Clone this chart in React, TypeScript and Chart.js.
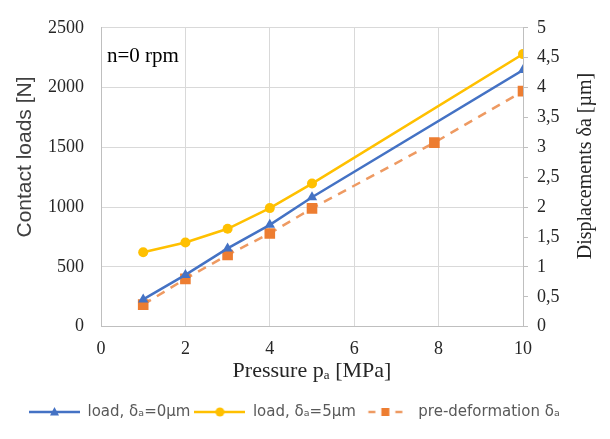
import React, { useEffect, useRef } from 'react';
import { Chart, registerables } from 'chart.js';

Chart.register(...registerables);

// ---- data ----
const pressure = [1, 2, 3, 4, 5, 10];
const loadDelta0 = [228, 433, 655, 852, 1083, 2146];
const loadDelta5 = [622, 704, 819, 992, 1197, 2280];
const prePressure = [1, 2, 3, 4, 5, 7.9, 10];
const preDeformation = [0.37, 0.8, 1.2, 1.56, 1.98, 3.08, 3.94];

const legendLabels = ['load, δₐ=0µm', 'load, δₐ=5µm', 'pre-deformation δₐ'];
const xTitle = 'Pressure pₐ [MPa]';
const yTitle = 'Contact loads [N]';
const y1Title = 'Displacements δa [µm]';
const annotation = 'n=0 rpm';

const BLUE = '#4472C4';
const GOLD = '#FFC000';
const ORANGE = '#ED7D31';
const ORANGE_LINE = '#EE9A62';
const GRID = '#d9d9d9';
const AXIS = '#bfbfbf';
const TEXT = '#262626';
const SERIF = '"Liberation Serif", "Times New Roman", serif';
const SANS = '"Liberation Sans", Arial, sans-serif';

const ICON_W = 51;

function makeIcon(kind: 'tri' | 'circle' | 'square'): HTMLCanvasElement {
  const c = document.createElement('canvas');
  c.width = ICON_W;
  c.height = 14;
  const ctx = c.getContext('2d')!;
  const cy = 7;
  const mid = ICON_W / 2;
  if (kind === 'tri') {
    ctx.strokeStyle = BLUE;
    ctx.lineWidth = 2.5;
    ctx.beginPath();
    ctx.moveTo(0, cy);
    ctx.lineTo(ICON_W, cy);
    ctx.stroke();
    ctx.fillStyle = BLUE;
    ctx.beginPath();
    ctx.moveTo(mid, cy - 5);
    ctx.lineTo(mid + 4.5, cy + 3.5);
    ctx.lineTo(mid - 4.5, cy + 3.5);
    ctx.closePath();
    ctx.fill();
  } else if (kind === 'circle') {
    ctx.strokeStyle = GOLD;
    ctx.lineWidth = 2.5;
    ctx.beginPath();
    ctx.moveTo(0, cy);
    ctx.lineTo(ICON_W, cy);
    ctx.stroke();
    ctx.fillStyle = GOLD;
    ctx.beginPath();
    ctx.arc(mid, cy, 4.5, 0, Math.PI * 2);
    ctx.fill();
  } else {
    ctx.strokeStyle = ORANGE_LINE;
    ctx.lineWidth = 2.5;
    ctx.beginPath();
    ctx.moveTo(mid - 17, cy);
    ctx.lineTo(mid - 10, cy);
    ctx.moveTo(mid + 10, cy);
    ctx.lineTo(mid + 17, cy);
    ctx.stroke();
    ctx.fillStyle = ORANGE;
    ctx.fillRect(mid - 4, cy - 4, 8, 8);
  }
  return c;
}

const legendShift = {
  id: 'legendShift',
  afterLayout(chart: any) {
    if (chart.legend) chart.legend.left = 25;
  },
};

const textPlugin = {
  id: 'extraText',
  afterDraw(chart: any) {
    const { ctx, chartArea } = chart;
    ctx.save();
    ctx.font = `21px ${SERIF}`;
    ctx.fillStyle = '#000';
    ctx.textBaseline = 'middle';
    ctx.textAlign = 'left';
    ctx.fillText(annotation, chartArea.left + 6, chartArea.top + 29);

    // left axis title (sans, reads bottom-to-top)
    ctx.save();
    ctx.translate(25, 157);
    ctx.rotate(-Math.PI / 2);
    ctx.textAlign = 'center';
    ctx.font = `21px ${SANS}`;
    ctx.fillStyle = '#404040';
    ctx.fillText(yTitle, 0, 0);
    ctx.restore();

    // right axis title (serif, reads bottom-to-top)
    ctx.save();
    ctx.translate(586, 166);
    ctx.rotate(-Math.PI / 2);
    ctx.textAlign = 'center';
    ctx.font = `20px ${SERIF}`;
    ctx.fillStyle = TEXT;
    ctx.fillText(y1Title, 0, 0);
    ctx.restore();

    ctx.restore();
  },
};

export default function App() {
  const ref = useRef<HTMLCanvasElement | null>(null);

  useEffect(() => {
    if (!ref.current) return;
    const icons = [makeIcon('tri'), makeIcon('circle'), makeIcon('square')];
    const chart = new Chart(ref.current, {
      type: 'line',
      data: {
        datasets: [
          {
            label: legendLabels[0],
            data: pressure.map((x, i) => ({ x, y: loadDelta0[i] })),
            borderColor: BLUE,
            backgroundColor: BLUE,
            borderWidth: 2.5,
            pointStyle: 'triangle',
            pointRadius: 6,
            pointBorderWidth: 0,
            yAxisID: 'y',
          },
          {
            label: legendLabels[1],
            data: pressure.map((x, i) => ({ x, y: loadDelta5[i] })),
            borderColor: GOLD,
            backgroundColor: GOLD,
            borderWidth: 2.5,
            pointStyle: 'circle',
            pointRadius: 5,
            pointBorderWidth: 0,
            yAxisID: 'y',
          },
          {
            label: legendLabels[2],
            data: prePressure.map((x, i) => ({ x, y: preDeformation[i] })),
            borderColor: ORANGE_LINE,
            backgroundColor: ORANGE,
            borderWidth: 2.5,
            borderDash: [9, 7],
            pointStyle: 'rect',
            pointRadius: 7.5,
            pointBorderWidth: 0,
            yAxisID: 'y1',
          },
        ],
      },
      options: {
        animation: false,
        responsive: false,
        maintainAspectRatio: false,
        layout: { padding: { left: 0, right: 0, top: 23, bottom: 9.5 } },
        plugins: {
          tooltip: { enabled: false },
          legend: {
            position: 'bottom',
            align: 'start',
            labels: {
              usePointStyle: true,
              pointStyleWidth: ICON_W,
              padding: 4,
              color: '#595959',
              font: { family: '"DejaVu Sans", sans-serif', size: 15 },
              generateLabels: (c: any) => {
                const items = Chart.defaults.plugins.legend.labels.generateLabels(c);
                return items.map((it: any, i: number) => ({ ...it, pointStyle: icons[it.datasetIndex ?? i] }));
              },
            },
          },
        },
        scales: {
          x: {
            type: 'linear',
            min: 0,
            max: 10,
            ticks: {
              stepSize: 2,
              padding: 12,
              color: TEXT,
              font: { family: SERIF, size: 18 },
            },
            grid: { color: GRID, drawTicks: false },
            border: { display: true, color: AXIS },
            title: {
              display: true,
              text: xTitle,
              color: TEXT,
              font: { family: SERIF, size: 22 },
              padding: { top: 0, bottom: 16 },
            },
            afterFit: (s: any) => {
              s.height = 73.8;
            },
          },
          y: {
            type: 'linear',
            position: 'left',
            min: 0,
            max: 2500,
            ticks: {
              stepSize: 500,
              padding: 17,
              color: TEXT,
              font: { family: SERIF, size: 18 },
              callback: (v: any) => String(v),
            },
            grid: { color: GRID, drawTicks: false },
            border: { display: true, color: AXIS },
            title: { display: false },
            afterFit: (s: any) => {
              s.width = 101;
            },
          },
          y1: {
            type: 'linear',
            position: 'right',
            min: 0,
            max: 5,
            ticks: {
              stepSize: 0.5,
              padding: 9,
              color: TEXT,
              font: { family: SERIF, size: 18 },
              callback: (v: any) => String(v).replace('.', ','),
            },
            grid: { drawOnChartArea: false, color: AXIS, tickLength: 5, drawTicks: true },
            border: { display: true, color: AXIS },
            title: { display: false },
            afterFit: (s: any) => {
              s.width = 87;
            },
          },
        },
      },
      plugins: [legendShift, textPlugin],
    } as any);
    return () => chart.destroy();
  }, []);

  return (
    <div style={{ position: 'absolute', left: 0, top: 0, width: 610, height: 439, background: '#fff' }}>
      <canvas ref={ref} width={610} height={439} />
    </div>
  );
}
